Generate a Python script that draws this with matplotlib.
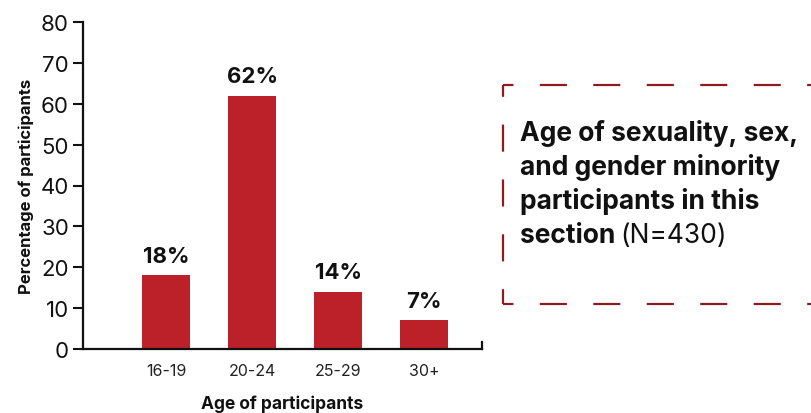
import matplotlib
matplotlib.use("Agg")
import matplotlib.pyplot as plt
from matplotlib.lines import Line2D

plt.rcParams['font.family'] = ['Inter', 'DejaVu Sans']
plt.rcParams['lines.scale_dashes'] = False

categories = ["16-19", "20-24", "25-29", "30+"]
values = [18, 62, 14, 7]
labels = ["18%", "62%", "14%", "7%"]
yticks = [0, 10, 20, 30, 40, 50, 60, 70, 80]

bar_color = "#BC2129"
box_color = "#8E1B20"

W, H = 811, 414
fig = plt.figure(figsize=(W / 100, H / 100), dpi=100)
ax = fig.add_axes([83 / W, (H - 350) / H, (482 - 83) / W, (350 - 23) / H])

x = list(range(len(categories)))
ax.bar(x, values, width=0.56, color=bar_color, zorder=2)
for xi, v, lab in zip(x, values, labels):
    ax.text(xi, v + 2.3, lab, ha='center', va='bottom', fontsize=16, fontweight='bold', color='#111111')

ax.set_xlim(-0.965, 3.674)
ax.set_ylim(0, 80)
ax.set_yticks(yticks)
ax.set_yticklabels([str(t) for t in yticks], fontsize=16, color='#111111')
ax.set_xticks(x)
ax.set_xticklabels(categories, fontsize=11.5, color='#222222')
ax.tick_params(axis='x', length=0, pad=10)
ax.tick_params(axis='y', length=7, width=1.5, pad=3, color='#111111')
for s in ['top', 'right']:
    ax.spines[s].set_visible(False)
for s in ['left', 'bottom']:
    ax.spines[s].set_linewidth(1.6)
    ax.spines[s].set_color('#111111')
ax.plot([1, 1], [0, 0.02], transform=ax.transAxes, color='#111111', lw=1.6, clip_on=False)

ax.set_ylabel("Percentage of participants", fontsize=12, fontweight='bold', labelpad=5, color='#111111')


def fx(px):
    return px / W


def fy(py):
    return (H - py) / H


fig.text(fx(282), fy(409), "Age of participants", fontsize=12.5, fontweight='bold', color='#111111',
         ha='center', va='baseline')

top, bot, left, right = 86, 305, 503, 820
fig.add_artist(Line2D([fx(left), fx(right)], [fy(top), fy(top)], color=box_color, lw=1.6,
                      linestyle=(12, (19.5, 19))))
fig.add_artist(Line2D([fx(left), fx(right)], [fy(bot), fy(bot)], color=box_color, lw=1.6,
                      linestyle=(12, (19.5, 19))))
fig.add_artist(Line2D([fx(left), fx(left)], [fy(top), fy(bot)], color=box_color, lw=1.6,
                      linestyle=(11, (19.5, 20))))

lines = ["Age of sexuality, sex,", "and gender minority", "participants in this"]
base = 141
for i, ln in enumerate(lines):
    fig.text(fx(520), fy(base + i * 34), ln, fontsize=19, fontweight='bold', color='#111111',
             va='baseline', ha='left')
t = fig.text(fx(520), fy(base + 3 * 34), "section", fontsize=19, fontweight='bold', color='#111111',
             va='baseline', ha='left')
fig.canvas.draw()
bb = t.get_window_extent()
fig.text(fx(bb.x1 + 5), fy(base + 3 * 34), "(N=430)", fontsize=19, color='#111111',
         va='baseline', ha='left')

fig.savefig("out.png", dpi=100)
